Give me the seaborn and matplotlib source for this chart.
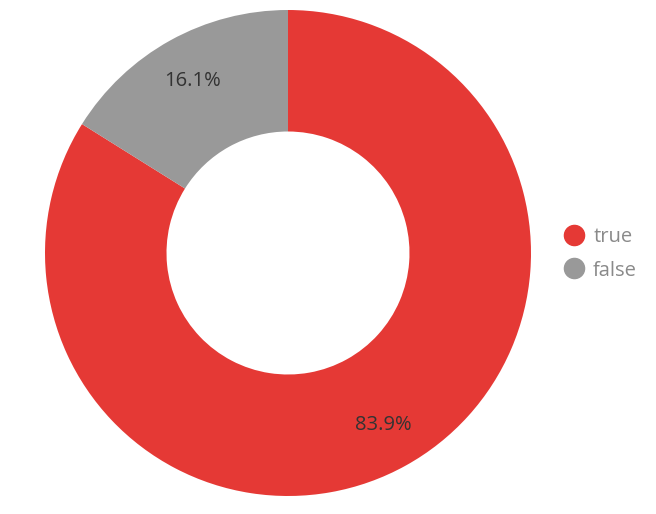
import matplotlib
matplotlib.use("Agg")
import matplotlib.pyplot as plt
from matplotlib.lines import Line2D
import seaborn as sns

categories = ["true", "false"]
values = [83.9, 16.1]
colors = ["#E53935", "#999999"]

sns.set_theme(style="white")
plt.rcParams["font.family"] = ["Open Sans", "DejaVu Sans"]

W, H = 656, 514
fig = plt.figure(figsize=(W / 100, H / 100), dpi=100)
cx, cy, r = 288, 253, 243
ax = fig.add_axes([(cx - r) / W, (H - cy - r) / H, 2 * r / W, 2 * r / H])

wedges, texts, autotexts = ax.pie(
    values,
    colors=colors,
    startangle=90,
    counterclock=False,
    radius=1.0,
    autopct="%.1f%%",
    pctdistance=0.81,
    wedgeprops=dict(width=0.5, edgecolor="none", linewidth=0),
    textprops=dict(color="#333333", fontsize=14.5),
)
ax.set_xlim(-1, 1)
ax.set_ylim(-1, 1)
ax.set_aspect("equal")
ax.axis("off")

handles = [
    Line2D([0], [0], marker="o", linestyle="none", markersize=14.5,
           markerfacecolor=c, markeredgecolor=c)
    for c in colors
]
leg = fig.legend(
    handles, categories,
    loc="center left",
    bbox_to_anchor=(562 / W, 1 - 254 / H),
    frameon=False,
    fontsize=14.5,
    handletextpad=0.35,
    labelspacing=0.65,
    handlelength=1.2,
    borderaxespad=0,
    borderpad=0,
)
for t in leg.get_texts():
    t.set_color("#8a8a8a")

fig.savefig("out.png", dpi=100)
